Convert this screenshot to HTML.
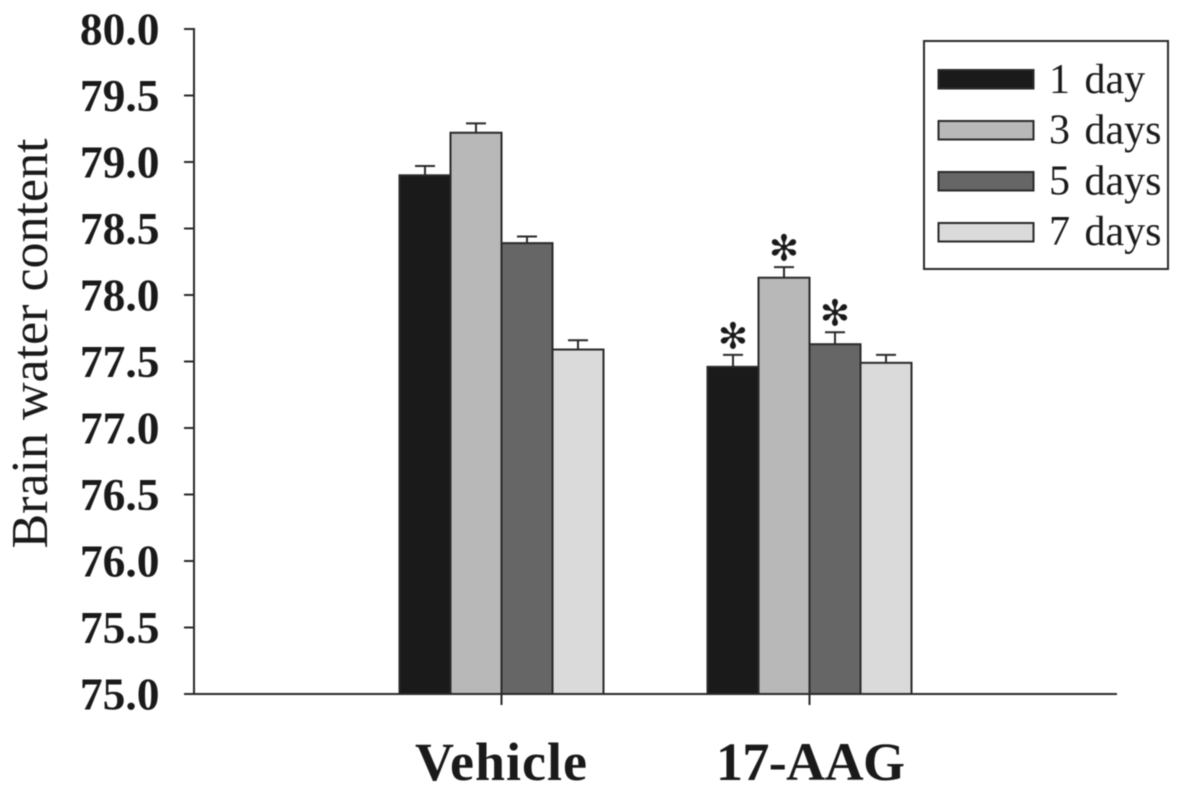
<!DOCTYPE html>
<html lang="en">
<head>
<meta charset="utf-8">
<title>Brain water content</title>
<style>
html,body{margin:0;padding:0;background:#fff;width:1181px;height:793px;overflow:hidden}
svg{display:block;filter:blur(0.4px)}
text{fill:#1a1a1a;font-family:"Liberation Serif",serif}
</style>
</head>
<body>
<svg id="chart" width="1181" height="793" viewBox="0 0 1181 793" xmlns="http://www.w3.org/2000/svg"></svg>
<script>
const categories = ['Vehicle', '17-AAG'];
const seriesNames = ['1 day', '3 days', '5 days', '7 days'];
const seriesValues = [
  [78.90, 77.46],
  [79.22, 78.13],
  [78.39, 77.63],
  [77.59, 77.49]
];
const seriesErrors = [
  [0.07, 0.09],
  [0.07, 0.08],
  [0.05, 0.09],
  [0.07, 0.06]
];
const significant = [
  [false, true],
  [false, true],
  [false, true],
  [false, false]
];
const tickValues = [75, 75.5, 76, 76.5, 77, 77.5, 78, 78.5, 79, 79.5, 80];
const seriesFills = ['#1a1a1a', '#b8b8b8', '#666666', '#dadada'];

const NS = 'http://www.w3.org/2000/svg';
const svg = document.getElementById('chart');
const INK = '#2a2a2a';
function y(v) { return 694 - (v - 75) * 133; }
function x(catIndex, seriesIndex) { return [399.5, 707.5][catIndex] + seriesIndex * 51; }
function catCenter(catIndex) { return x(catIndex, 2); }
function make(tag, attrs, text) {
  const el = document.createElementNS(NS, tag);
  for (const k in attrs) el.setAttribute(k, attrs[k]);
  if (text !== undefined) el.textContent = text;
  svg.appendChild(el);
  return el;
}

// y axis
const yAxis = make('line', {x1: 194, x2: 194, y1: y(80) - 1, y2: y(75), stroke: INK, 'stroke-width': 2});


tickValues.forEach(function (t) {
  const tick = make('line', {x1: 184, x2: 194, y1: y(t), y2: y(t), stroke: INK, 'stroke-width': 2});
  
  
  const label = make('text', {x: 159.5, y: y(t) + 15.5, 'text-anchor': 'end', 'font-size': 45.5, 'font-weight': 'bold'}, t.toFixed(1));
  
  
});

// bars
seriesValues.forEach(function (vals, s) {
  vals.forEach(function (v, c) {
    const bx = x(c, s);
    const err = seriesErrors[s][c];
    const cx = bx + 25.5;
    const stem = make('line', {x1: cx, x2: cx, y1: y(v), y2: y(v + err), stroke: INK, 'stroke-width': 2});
    
    
    const cap = make('line', {x1: cx - 10, x2: cx + 10, y1: y(v + err), y2: y(v + err), stroke: INK, 'stroke-width': 2});
    
    
    const bar = make('rect', {x: bx, y: y(v), width: 51, height: y(75) - y(v), fill: seriesFills[s], stroke: INK, 'stroke-width': 2});
    
    
    if (significant[s][c]) {
      const star = make('text', {x: cx, y: y(v + err) - 6.5, 'text-anchor': 'middle', 'font-size': 36, style: 'font-family:"DejaVu Sans",sans-serif'}, '\u273B');
      
      
    }
  });
});

// x axis
const xAxis = make('line', {x1: 194, x2: 1117, y1: y(75), y2: y(75), stroke: INK, 'stroke-width': 2});


categories.forEach(function (name, c) {
  const tick = make('line', {x1: catCenter(c), x2: catCenter(c), y1: y(75), y2: y(75) + 11, stroke: INK, 'stroke-width': 2});
  
  
  const label = make('text', {x: [415, 716][c], y: 780, textLength: [172, 189][c], lengthAdjust: 'spacing', 'font-size': 54, 'font-weight': 'bold'}, name);
  
  
});

// y title
const title = make('text', {transform: 'translate(47,343.5) rotate(-90)', 'text-anchor': 'middle', 'font-size': 52}, 'Brain water content');



// legend
const legendBox = make('rect', {x: 924, y: 41, width: 244, height: 228, fill: '#fff', stroke: INK, 'stroke-width': 2});


seriesNames.forEach(function (name, s) {
  const swatch = make('rect', {x: 938.5, y: 70 + s * 51, width: 95, height: 18.5, fill: seriesFills[s], stroke: INK, 'stroke-width': 2});
  
  
  const label = make('text', {x: 1049, y: 93 + s * 50.7, 'font-size': 42, 'word-spacing': 4}, name);
  
  
});
</script>
</body>
</html>
